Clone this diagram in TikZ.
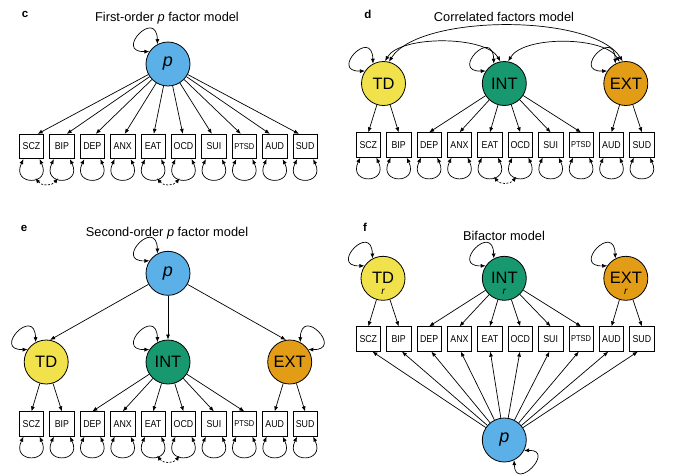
\documentclass[tikz,border=0pt]{standalone}
\usepackage{fontspec}
\setmainfont{Liberation Sans}
\newfontfamily\boxfont[FakeStretch=0.88]{Liberation Sans}
\usetikzlibrary{arrows.meta,calc}
\definecolor{pblue}{RGB}{92,176,232}
\definecolor{tdyel}{RGB}{241,226,76}
\definecolor{intgrn}{RGB}{24,152,110}
\definecolor{extorg}{RGB}{226,156,22}
\newcommand\ptsdlab{{\fontsize{8.5}{9}\selectfont PTSD}}
\newcommand\obsrow[3]{\foreach \lab/\txt [count=\i from 0] in {SCZ/SCZ,BIP/BIP,DEP/DEP,ANX/ANX,EAT/EAT,OCD/OCD,SUI/SUI,PTSD/\ptsdlab,AUD/AUD,SUD/SUD}{\node[obs] (#1\lab) at ({#2+30.4*\i},#3) {\txt};}}
\newcommand\resloop[1]{\draw[arrb] ([xshift=-8pt]#1.south) .. controls +(-13,-27) and +(13,-27) .. ([xshift=8pt]#1.south);}
\newcommand\floopUL[1]{\draw[arrb] (#1.146) .. controls +(-36,-1) and +(-1,37) .. (#1.118);}
\newcommand\floopUR[1]{\draw[arrb] (#1.34) .. controls +(36,-1) and +(1,37) .. (#1.62);}
\newcommand\floopLR[1]{\draw[arrb] (#1.-28) .. controls +(32,1) and +(1,-32) .. (#1.-64);}
\newcommand\rescov[2]{\draw[arrb,dash pattern=on 2pt off 1.5pt] ([xshift=4pt,yshift=-19pt]#1.south) .. controls +(6,-8) and +(-6,-8) .. ([xshift=-4pt,yshift=-19pt]#2.south);}
\tikzset{
  obs/.style={draw, line width=0.7pt, minimum width=24.5pt, minimum height=24.5pt, inner sep=0pt, font=\boxfont\fontsize{10}{11}\selectfont},
  lat/.style={circle, draw, line width=0.8pt, minimum size=44pt, inner sep=0pt, font=\fontsize{16.5}{18}\selectfont},
  pnode/.style={lat, fill=pblue, font=\fontsize{18}{20}\selectfont\itshape},
  ttl/.style={anchor=base, inner sep=0pt, font=\fontsize{12.8}{14}\selectfont},
  plab/.style={anchor=base, inner sep=0pt, font=\fontsize{11.5}{12}\selectfont\bfseries},
  rsub/.style={inner sep=0pt, font=\fontsize{10}{11}\selectfont\itshape},
  arr/.style={-{Latex[length=5pt,width=4pt]}, line width=0.7pt},
  arrb/.style={{Latex[length=5pt,width=4pt]}-{Latex[length=5pt,width=4pt]}, line width=0.7pt},
}
\begin{document}
\begin{tikzpicture}[x=1pt,y=1pt]
\useasboundingbox (0,0) rectangle (680,-475);
% ---------------- panel c
\node[plab] (lc) at (25,-17.5) {c};
\node[ttl] (tc) at (167,-21.7) {First-order \textit{p} factor model};
\node[pnode] (cp) at (168,-64) {p};
\floopUL{cp}
\obsrow{c}{31.5}{-146.5}
\foreach \b/\s in {SCZ/6.1,BIP/4.8,DEP/3.4,ANX/2,EAT/0.7,OCD/-0.7,SUI/-2,PTSD/-3.4,AUD/-4.8,SUD/-6.1}
  \draw[arr] (cp) -- ([xshift=\s pt]c\b.north);
\foreach \b in {SCZ,BIP,DEP,ANX,EAT,OCD,SUI,PTSD,AUD,SUD} {\resloop{c\b}}
\rescov{cSCZ}{cBIP}
\rescov{cEAT}{cOCD}
% ---------------- panel d
\node[plab] (ld) at (368,-18.3) {d};
\node[ttl] (tdd) at (504,-21.7) {Correlated factors model};
\node[lat, fill=tdyel] (dTD) at (383.5,-83.5) {TD};
\node[lat, fill=intgrn] (dINT) at (504.3,-83.5) {INT};
\node[lat, fill=extorg] (dEXT) at (625.8,-83.5) {EXT};
\floopUL{dTD}\floopUL{dINT}\floopUL{dEXT}
\draw[arrb] (dTD.86) .. controls +(15,26) and +(-15,26) .. (dINT.100);
\draw[arrb] (dTD.76) .. controls +(30,48) and +(-30,48) .. (dEXT.98);
\draw[arrb] (dINT.80) .. controls +(15,26) and +(-15,26) .. (dEXT.106);
\obsrow{d}{368.3}{-145}
\foreach \b in {SCZ,BIP} \draw[arr] (dTD) -- (d\b.north);
\foreach \b in {DEP,ANX,EAT,OCD,SUI,PTSD} \draw[arr] (dINT) -- (d\b.north);
\foreach \b in {AUD,SUD} \draw[arr] (dEXT) -- (d\b.north);
\foreach \b in {SCZ,BIP,DEP,ANX,EAT,OCD,SUI,PTSD,AUD,SUD} {\resloop{d\b}}
\rescov{dEAT}{dOCD}
% ---------------- panel e
\node[plab] (le) at (24,-231) {e};
\node[ttl] (te) at (167,-236) {Second-order \textit{p} factor model};
\node[pnode] (ep) at (168,-273.3) {p};
\floopUL{ep}
\node[lat, fill=tdyel] (eTD) at (46.2,-362) {TD};
\node[lat, fill=intgrn] (eINT) at (168,-362) {INT};
\node[lat, fill=extorg] (eEXT) at (289.7,-362) {EXT};
\floopUL{eTD}\floopUL{eINT}\floopUR{eEXT}
\draw[arr] (ep) -- (eTD.80);
\draw[arr] (ep) -- (eINT.north);
\draw[arr] (ep) -- (eEXT.100);
\obsrow{e}{31.5}{-424}
\foreach \b in {SCZ,BIP} \draw[arr] (eTD) -- (e\b.north);
\foreach \b in {DEP,ANX,EAT,OCD,SUI,PTSD} \draw[arr] (eINT) -- (e\b.north);
\foreach \b in {AUD,SUD} \draw[arr] (eEXT) -- (e\b.north);
\foreach \b in {SCZ,BIP,DEP,ANX,EAT,OCD,SUI,PTSD,AUD,SUD} {\resloop{e\b}}
\rescov{eEAT}{eOCD}
% ---------------- panel f
\node[plab] (lf) at (365,-231) {f};
\node[ttl] (tf) at (504,-240) {Bifactor model};
\node[lat, fill=tdyel] (fTD) at (383,-278.3) {TD};
\node[lat, fill=intgrn] (fINT) at (504.3,-278.3) {INT};
\node[lat, fill=extorg] (fEXT) at (625.8,-278.3) {EXT};
\node[rsub] (rTD) at (383,-291.5) {r};
\node[rsub] (rINT) at (504.3,-291.5) {r};
\node[rsub] (rEXT) at (625.8,-291.5) {r};
\floopUL{fTD}\floopUL{fINT}\floopUL{fEXT}
\obsrow{f}{368.3}{-339}
\foreach \b in {SCZ,BIP} \draw[arr] (fTD) -- (f\b.north);
\foreach \b in {DEP,ANX,EAT,OCD,SUI,PTSD} \draw[arr] (fINT) -- (f\b.north);
\foreach \b in {AUD,SUD} \draw[arr] (fEXT) -- (f\b.north);
\node[pnode] (fp) at (504.3,-440) {p};
\floopLR{fp}
\foreach \b/\s in {SCZ/4.1,BIP/3.2,DEP/2.3,ANX/1.3,EAT/0.4,OCD/-0.4,SUI/-1.3,PTSD/-2.3,AUD/-3.2,SUD/-4.1}
  \draw[arr] (fp) -- ([xshift=\s pt]f\b.south);
\end{tikzpicture}
\end{document}
